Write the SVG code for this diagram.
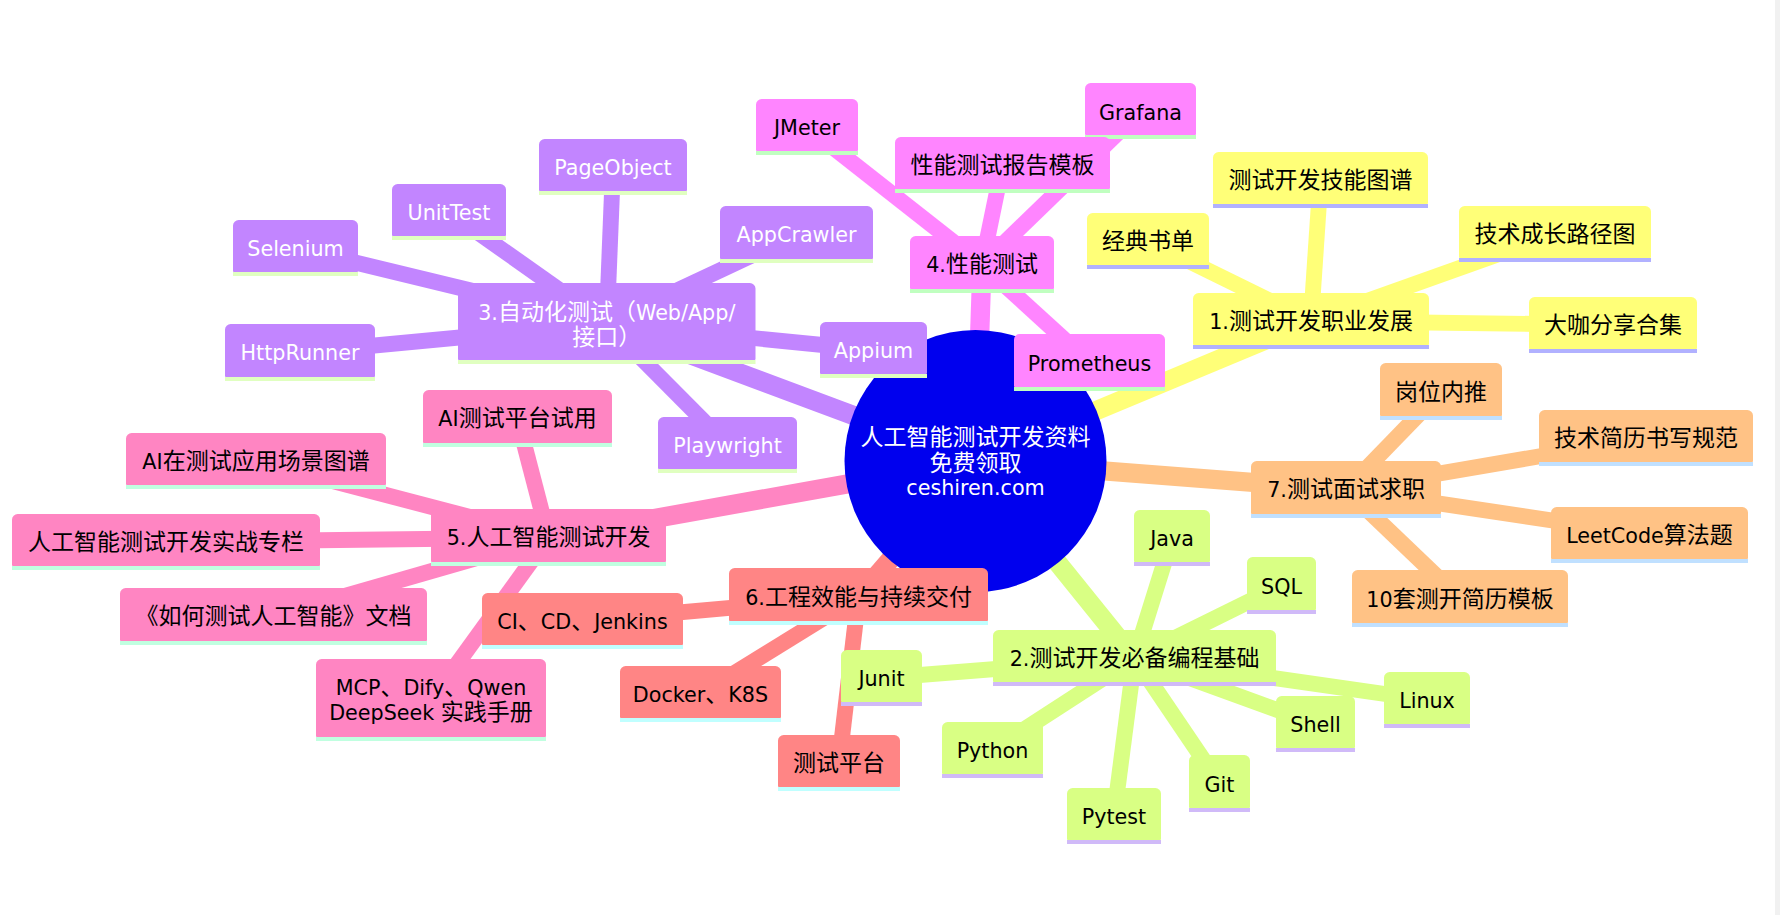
<svg xmlns="http://www.w3.org/2000/svg" width="1780" height="915" viewBox="0 0 1780 915">
<style>
text{font-family:"DejaVu Sans",sans-serif;font-size:20.7px;text-anchor:middle;fill:#000}
.c{font-family:"Noto Sans CJK SC","DejaVu Sans",sans-serif;font-size:23px}
.w text{fill:#fff}
line{fill:none}
.d0{stroke-width:19.3}.d1{stroke-width:15.9}
.e1{stroke:#ffff78}.e2{stroke:#d9ff84}.e3{stroke:#c285ff}.e4{stroke:#ff85ff}.e5{stroke:#ff85c2}.e6{stroke:#ff8585}.e7{stroke:#ffc285}
.s1 rect.b{fill:#ffff78}.s1 rect.l{fill:#b1b1ff}
.s2 rect.b{fill:#d9ff84}.s2 rect.l{fill:#d0baf8}
.s3 rect.b{fill:#c285ff}.s3 rect.l{fill:#e0ffc0}
.s4 rect.b{fill:#ff85ff}.s4 rect.l{fill:#c0ffc0}
.s5 rect.b{fill:#ff85c2}.s5 rect.l{fill:#c0ffe0}
.s6 rect.b{fill:#ff8585}.s6 rect.l{fill:#c0ffff}
.s7 rect.b{fill:#ffc285}.s7 rect.l{fill:#c0e0ff}
</style>
<rect width="1780" height="915" fill="#fff"/>
<rect x="1775" y="0" width="5" height="915" fill="#f1f1f1"/>
<g id="connectors">
<line class="e1 d0" x1="975.5" y1="461" x2="1311" y2="321"/>
<line class="e2 d0" x1="975.5" y1="461" x2="1134.5" y2="658"/>
<line class="e3 d0" x1="975.5" y1="461" x2="606.75" y2="323.5"/>
<line class="e4 d0" x1="975.5" y1="461" x2="982" y2="264.5"/>
<line class="e5 d0" x1="975.5" y1="461" x2="548.5" y2="537.5"/>
<line class="e6 d0" x1="975.5" y1="461" x2="858.5" y2="596.5"/>
<line class="e7 d0" x1="975.5" y1="461" x2="1346" y2="489.5"/>
<line class="e1 d1" x1="1311" y1="321" x2="1613" y2="325"/>
<line class="e1 d1" x1="1311" y1="321" x2="1148" y2="241"/>
<line class="e1 d1" x1="1311" y1="321" x2="1320.5" y2="180"/>
<line class="e1 d1" x1="1311" y1="321" x2="1555" y2="234"/>
<line class="e2 d1" x1="1134.5" y1="658" x2="1172" y2="538"/>
<line class="e2 d1" x1="1134.5" y1="658" x2="1281.5" y2="585.5"/>
<line class="e2 d1" x1="1134.5" y1="658" x2="1427" y2="700"/>
<line class="e2 d1" x1="1134.5" y1="658" x2="1315.5" y2="724"/>
<line class="e2 d1" x1="1134.5" y1="658" x2="1219.5" y2="783.5"/>
<line class="e2 d1" x1="1134.5" y1="658" x2="1114" y2="816"/>
<line class="e2 d1" x1="1134.5" y1="658" x2="992.5" y2="750"/>
<line class="e2 d1" x1="1134.5" y1="658" x2="881.5" y2="678"/>
<line class="e3 d1" x1="606.75" y1="323.5" x2="613" y2="167"/>
<line class="e3 d1" x1="606.75" y1="323.5" x2="449" y2="212"/>
<line class="e3 d1" x1="606.75" y1="323.5" x2="295.5" y2="248"/>
<line class="e3 d1" x1="606.75" y1="323.5" x2="300" y2="352.5"/>
<line class="e3 d1" x1="606.75" y1="323.5" x2="796.5" y2="234.5"/>
<line class="e3 d1" x1="606.75" y1="323.5" x2="873.5" y2="350"/>
<line class="e3 d1" x1="606.75" y1="323.5" x2="727.5" y2="445"/>
<line class="e4 d1" x1="982" y1="264.5" x2="807" y2="127"/>
<line class="e4 d1" x1="982" y1="264.5" x2="1002.5" y2="165"/>
<line class="e4 d1" x1="982" y1="264.5" x2="1140.5" y2="111"/>
<line class="e4 d1" x1="982" y1="264.5" x2="1089.5" y2="362.5"/>
<line class="e5 d1" x1="548.5" y1="537.5" x2="517.5" y2="418.5"/>
<line class="e5 d1" x1="548.5" y1="537.5" x2="256" y2="461"/>
<line class="e5 d1" x1="548.5" y1="537.5" x2="166" y2="542"/>
<line class="e5 d1" x1="548.5" y1="537.5" x2="273.5" y2="616.5"/>
<line class="e5 d1" x1="548.5" y1="537.5" x2="431" y2="700"/>
<line class="e6 d1" x1="858.5" y1="596.5" x2="582.5" y2="621"/>
<line class="e6 d1" x1="858.5" y1="596.5" x2="700.5" y2="694"/>
<line class="e6 d1" x1="858.5" y1="596.5" x2="839" y2="763"/>
<line class="e7 d1" x1="1346" y1="489.5" x2="1441" y2="391.5"/>
<line class="e7 d1" x1="1346" y1="489.5" x2="1646" y2="438"/>
<line class="e7 d1" x1="1346" y1="489.5" x2="1649.5" y2="535"/>
<line class="e7 d1" x1="1346" y1="489.5" x2="1460" y2="598.5"/>
</g>
<g id="root" class="w"><circle cx="975.5" cy="461" r="131" fill="#0000ee"/>
<text x="975.5" y="445"><tspan class="c">人工智能测试开发资料</tspan></text>
<text x="975.5" y="470.5"><tspan class="c">免费领取</tspan></text>
<text x="975.5" y="495">ceshiren.com</text></g>

<g id="grafana" class="s4"><rect class="b" x="1085" y="83" width="111" height="56" rx="5.7"/><rect class="l" x="1085" y="135" width="111" height="4"/><text x="1140.5" y="120">Grafana</text></g>
<g id="jmeter" class="s4"><rect class="b" x="756" y="99" width="102" height="56" rx="5.7"/><rect class="l" x="756" y="151" width="102" height="4"/><text x="807" y="135">JMeter</text></g>
<g id="report" class="s4"><rect class="b" x="895" y="137" width="215" height="56" rx="5.7"/><rect class="l" x="895" y="189" width="215" height="4"/><text x="1002.5" y="173"><tspan class="c">性能测试报告模板</tspan></text></g>
<g id="n4" class="s4"><rect class="b" x="910" y="236" width="144" height="57" rx="5.7"/><rect class="l" x="910" y="289" width="144" height="4"/><text x="982" y="272">4.<tspan class="c">性能测试</tspan></text></g>
<g id="prometheus" class="s4"><rect class="b" x="1014" y="334" width="151" height="57" rx="5.7"/><rect class="l" x="1014" y="387" width="151" height="4"/><text x="1089.5" y="370.5">Prometheus</text></g>

<g id="n1" class="s1"><rect class="b" x="1193" y="293" width="236" height="56" rx="5.7"/><rect class="l" x="1193" y="345" width="236" height="4"/><text x="1311" y="329">1.<tspan class="c">测试开发职业发展</tspan></text></g>
<g id="books" class="s1"><rect class="b" x="1087" y="213" width="122" height="56" rx="5.7"/><rect class="l" x="1087" y="265" width="122" height="4"/><text x="1148" y="249"><tspan class="c">经典书单</tspan></text></g>
<g id="skills" class="s1"><rect class="b" x="1213" y="152" width="215" height="56" rx="5.7"/><rect class="l" x="1213" y="204" width="215" height="4"/><text x="1320.5" y="188"><tspan class="c">测试开发技能图谱</tspan></text></g>
<g id="growth" class="s1"><rect class="b" x="1459" y="206" width="192" height="56" rx="5.7"/><rect class="l" x="1459" y="258" width="192" height="4"/><text x="1555" y="242"><tspan class="c">技术成长路径图</tspan></text></g>
<g id="share" class="s1"><rect class="b" x="1529" y="297" width="168" height="56" rx="5.7"/><rect class="l" x="1529" y="349" width="168" height="4"/><text x="1613" y="333"><tspan class="c">大咖分享合集</tspan></text></g>

<g id="n7" class="s7"><rect class="b" x="1251" y="461" width="190" height="57" rx="5.7"/><rect class="l" x="1251" y="514" width="190" height="4"/><text x="1346" y="497">7.<tspan class="c">测试面试求职</tspan></text></g>
<g id="referral" class="s7"><rect class="b" x="1380" y="363" width="122" height="57" rx="5.7"/><rect class="l" x="1380" y="416" width="122" height="4"/><text x="1441" y="399.5"><tspan class="c">岗位内推</tspan></text></g>
<g id="resume" class="s7"><rect class="b" x="1539" y="410" width="214" height="56" rx="5.7"/><rect class="l" x="1539" y="462" width="214" height="4"/><text x="1646" y="446"><tspan class="c">技术简历书写规范</tspan></text></g>
<g id="leetcode" class="s7"><rect class="b" x="1551" y="507" width="197" height="56" rx="5.7"/><rect class="l" x="1551" y="559" width="197" height="4"/><text x="1649.5" y="543">LeetCode<tspan class="c">算法题</tspan></text></g>
<g id="templates" class="s7"><rect class="b" x="1352" y="570" width="216" height="57" rx="5.7"/><rect class="l" x="1352" y="623" width="216" height="4"/><text x="1460" y="606.5">10<tspan class="c">套测开简历模板</tspan></text></g>

<g id="n2" class="s2"><rect class="b" x="993" y="630" width="283" height="56" rx="5.7"/><rect class="l" x="993" y="682" width="283" height="4"/><text x="1134.5" y="666">2.<tspan class="c">测试开发必备编程基础</tspan></text></g>
<g id="java" class="s2"><rect class="b" x="1134" y="510" width="76" height="56" rx="5.7"/><rect class="l" x="1134" y="562" width="76" height="4"/><text x="1172" y="546">Java</text></g>
<g id="sql" class="s2"><rect class="b" x="1247" y="557" width="69" height="57" rx="5.7"/><rect class="l" x="1247" y="610" width="69" height="4"/><text x="1281.5" y="593.5">SQL</text></g>
<g id="linux" class="s2"><rect class="b" x="1384" y="672" width="86" height="56" rx="5.7"/><rect class="l" x="1384" y="724" width="86" height="4"/><text x="1427" y="708">Linux</text></g>
<g id="shell" class="s2"><rect class="b" x="1276" y="696" width="79" height="56" rx="5.7"/><rect class="l" x="1276" y="748" width="79" height="4"/><text x="1315.5" y="732">Shell</text></g>
<g id="git" class="s2"><rect class="b" x="1189" y="755" width="61" height="57" rx="5.7"/><rect class="l" x="1189" y="808" width="61" height="4"/><text x="1219.5" y="791.5">Git</text></g>
<g id="pytest" class="s2"><rect class="b" x="1067" y="788" width="94" height="56" rx="5.7"/><rect class="l" x="1067" y="840" width="94" height="4"/><text x="1114" y="824">Pytest</text></g>
<g id="python" class="s2"><rect class="b" x="942" y="722" width="101" height="56" rx="5.7"/><rect class="l" x="942" y="774" width="101" height="4"/><text x="992.5" y="758">Python</text></g>

<g id="n6" class="s6"><rect class="b" x="729" y="568" width="259" height="57" rx="5.7"/><rect class="l" x="729" y="621" width="259" height="4"/><text x="858.5" y="604.5">6.<tspan class="c">工程效能与持续交付</tspan></text></g>
<g id="cicd" class="s6"><rect class="b" x="482" y="593" width="201" height="56" rx="5.7"/><rect class="l" x="482" y="645" width="201" height="4"/><text x="582.5" y="629">CI<tspan class="c">、</tspan>CD<tspan class="c">、</tspan>Jenkins</text></g>
<g id="docker" class="s6"><rect class="b" x="620" y="666" width="161" height="56" rx="5.7"/><rect class="l" x="620" y="718" width="161" height="4"/><text x="700.5" y="702">Docker<tspan class="c">、</tspan>K8S</text></g>
<g id="platform" class="s6"><rect class="b" x="778" y="735" width="122" height="56" rx="5.7"/><rect class="l" x="778" y="787" width="122" height="4"/><text x="839" y="771"><tspan class="c">测试平台</tspan></text></g>
<g id="junit" class="s2"><rect class="b" x="841" y="650" width="81" height="56" rx="5.7"/><rect class="l" x="841" y="702" width="81" height="4"/><text x="881.5" y="686">Junit</text></g>

<g id="n5" class="s5"><rect class="b" x="431" y="509" width="235" height="57" rx="5.7"/><rect class="l" x="431" y="562" width="235" height="4"/><text x="548.5" y="545">5.<tspan class="c">人工智能测试开发</tspan></text></g>
<g id="aiplatform" class="s5"><rect class="b" x="423" y="390" width="189" height="57" rx="5.7"/><rect class="l" x="423" y="443" width="189" height="4"/><text x="517.5" y="426">AI<tspan class="c">测试平台试用</tspan></text></g>
<g id="aiscene" class="s5"><rect class="b" x="126" y="433" width="260" height="56" rx="5.7"/><rect class="l" x="126" y="485" width="260" height="4"/><text x="256" y="469">AI<tspan class="c">在测试应用场景图谱</tspan></text></g>
<g id="aicourse" class="s5"><rect class="b" x="12" y="514" width="308" height="56" rx="5.7"/><rect class="l" x="12" y="566" width="308" height="4"/><text x="166" y="550"><tspan class="c">人工智能测试开发实战专栏</tspan></text></g>
<g id="aidoc" class="s5"><rect class="b" x="120" y="588" width="307" height="57" rx="5.7"/><rect class="l" x="120" y="641" width="307" height="4"/><text x="273.5" y="624"><tspan class="c">《如何测试人工智能》文档</tspan></text></g>
<g id="mcp" class="s5"><rect class="b" x="316" y="659" width="230" height="82" rx="5.7"/><rect class="l" x="316" y="737" width="230" height="4"/><text x="431" y="695">MCP<tspan class="c">、</tspan>Dify<tspan class="c">、</tspan>Qwen</text><text x="431" y="720">DeepSeek <tspan class="c">实践手册</tspan></text></g>

<g id="n3" class="s3 w"><rect class="b" x="458" y="283" width="297.5" height="81" rx="5.7"/><rect class="l" x="458" y="360" width="297.5" height="4"/><text x="606.75" y="320">3.<tspan class="c">自动化测试（</tspan>Web/App/</text><text x="606.75" y="345"><tspan class="c">接口）</tspan></text></g>
<g id="pageobject" class="s3 w"><rect class="b" x="539" y="139" width="148" height="56" rx="5.7"/><rect class="l" x="539" y="191" width="148" height="4"/><text x="613" y="175">PageObject</text></g>
<g id="unittest" class="s3 w"><rect class="b" x="392" y="184" width="114" height="56" rx="5.7"/><rect class="l" x="392" y="236" width="114" height="4"/><text x="449" y="220">UnitTest</text></g>
<g id="selenium" class="s3 w"><rect class="b" x="233" y="220" width="125" height="56" rx="5.7"/><rect class="l" x="233" y="272" width="125" height="4"/><text x="295.5" y="256">Selenium</text></g>
<g id="httprunner" class="s3 w"><rect class="b" x="225" y="324" width="150" height="57" rx="5.7"/><rect class="l" x="225" y="377" width="150" height="4"/><text x="300" y="360">HttpRunner</text></g>
<g id="appcrawler" class="s3 w"><rect class="b" x="720" y="206" width="153" height="57" rx="5.7"/><rect class="l" x="720" y="259" width="153" height="4"/><text x="796.5" y="242">AppCrawler</text></g>
<g id="appium" class="s3 w"><rect class="b" x="820" y="322" width="107" height="56" rx="5.7"/><rect class="l" x="820" y="374" width="107" height="4"/><text x="873.5" y="358">Appium</text></g>
<g id="playwright" class="s3 w"><rect class="b" x="658" y="417" width="139" height="56" rx="5.7"/><rect class="l" x="658" y="469" width="139" height="4"/><text x="727.5" y="453">Playwright</text></g>
</svg>
